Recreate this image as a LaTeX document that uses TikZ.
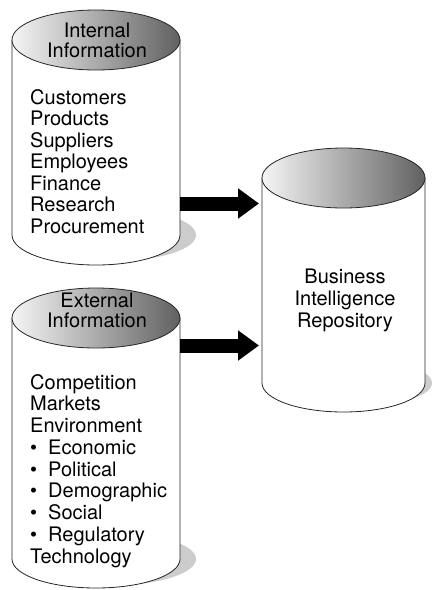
\documentclass[tikz,border=0pt]{standalone}
\usepackage{fontspec}
\setmainfont{TeX Gyre Heros}
\usetikzlibrary{arrows.meta}
\begin{document}
\begin{tikzpicture}[x=1pt,y=-1pt,
  outline/.style={draw=black!85, line width=0.8pt},
  topcap/.style={outline, left color=black!4, right color=black!62},
  shadowfill/.style={fill=black!20},
  body/.style={outline, fill=white},
  txt/.style={inner sep=0pt, font=\fontsize{20}{21.6}\selectfont},
  blockarrow/.style={line width=14pt, -{Triangle[length=21pt,width=29pt]}},
]
\useasboundingbox (0,0) rectangle (432,590);
% shadows
\fill[shadowfill] (114,235) ellipse [x radius=82pt, y radius=26pt];
\fill[shadowfill] (114,559) ellipse [x radius=82pt, y radius=26pt];
\fill[shadowfill] (352,383) ellipse [x radius=80pt, y radius=24pt];
% internal cylinder
\path[body] (12,40) -- (12,235) arc [start angle=180, end angle=360, x radius=84pt, y radius=30pt] -- (180,40) -- cycle;
\path[topcap] (96,40) ellipse [x radius=84pt, y radius=30pt];
% external cylinder
\path[body] (12,318) -- (12,559) arc [start angle=180, end angle=360, x radius=84pt, y radius=29pt] -- (180,318) -- cycle;
\path[topcap] (96,318) ellipse [x radius=84pt, y radius=30pt];
% BI cylinder
\path[body] (262,178) -- (262,383) arc [start angle=180, end angle=360, x radius=81.5pt, y radius=29pt] -- (425,178) -- cycle;
\path[topcap] (343.5,178) ellipse [x radius=81.5pt, y radius=30pt];
% titles
\node[txt, anchor=base] (t1a) at (97,37) {Internal};
\node[txt, anchor=base] (t1b) at (97,57) {Information};
\node[txt, anchor=base] (t2a) at (97,307.5) {External};
\node[txt, anchor=base] (t2b) at (97,327) {Information};
% internal list
\foreach \t [count=\k from 0] in {Customers,Products,Suppliers,Employees,Finance,Research,Procurement}
  \node[txt, anchor=base west] (int\k) at (30,104+21.5*\k) {\t};
% external list
\foreach \t [count=\k from 0] in {Competition,Markets,Environment,
  \makebox[18pt][l]{\textbullet}Economic,
  \makebox[18pt][l]{\textbullet}Political,
  \makebox[18pt][l]{\textbullet}Demographic,
  \makebox[18pt][l]{\textbullet}Social,
  \makebox[18pt][l]{\textbullet}Regulatory,Technology}
  \node[txt, anchor=base west] (ext\k) at (30,389+21.75*\k) {\t};
% repository
\node[txt, anchor=base] (r1) at (345,283) {Business};
\node[txt, anchor=base] (r2) at (345,305) {Intelligence};
\node[txt, anchor=base] (r3) at (345,327) {Repository};
% arrows
\coordinate (a1s) at (180,203.5);
\coordinate (a1e) at (259,203.5);
\coordinate (a2s) at (180,345.5);
\coordinate (a2e) at (259,345.5);
\draw[blockarrow] (a1s) -- (a1e);
\draw[blockarrow] (a2s) -- (a2e);
\end{tikzpicture}
\end{document}
